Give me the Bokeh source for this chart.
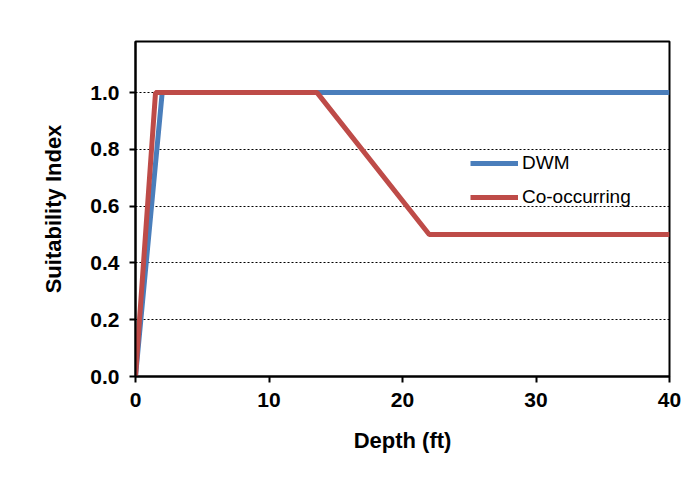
from bokeh.plotting import figure
from bokeh.models import FixedTicker, PrintfTickFormatter, Range1d, Legend, LegendItem
from bokeh.embed import file_html
from bokeh.resources import INLINE

# Data
dwm_depth = [0, 2, 40]
dwm_si = [0, 1.0, 1.0]
co_depth = [0, 1.5, 13.6, 22, 40]
co_si = [0, 1.0, 1.0, 0.5, 0.5]
x_ticks = [0, 10, 20, 30, 40]
y_ticks = [0.0, 0.2, 0.4, 0.6, 0.8, 1.0]

BLUE = "#4A7EBB"
RED = "#BE4B48"
FONT = "Liberation Sans"

p = figure(width=684, height=475, output_backend="svg", toolbar_location=None,
           x_range=Range1d(0, 40), y_range=Range1d(0, 1.18),
           min_border_left=135, min_border_right=15, min_border_top=41, min_border_bottom=99)

p.outline_line_color = "black"
p.outline_line_width = 2
p.background_fill_color = "white"
p.border_fill_color = "white"

r1 = p.line(dwm_depth, dwm_si, line_color=BLUE, line_width=5)
r2 = p.line(co_depth, co_si, line_color=RED, line_width=5)

# grid
p.xgrid.visible = False
p.ygrid.ticker = FixedTicker(ticks=[0.2, 0.4, 0.6, 0.8, 1.0])
p.ygrid.grid_line_color = "black"
p.ygrid.grid_line_dash = "2 2"
p.ygrid.grid_line_width = 1

for ax in (p.xaxis[0], p.yaxis[0]):
    ax.axis_line_color = "black"
    ax.axis_line_width = 2
    ax.major_tick_line_color = "black"
    ax.major_tick_line_width = 2
    ax.major_tick_in = 0
    ax.major_tick_out = 6
    ax.minor_tick_line_color = None
    ax.major_label_text_font = FONT
    ax.major_label_text_font_style = "bold"
    ax.major_label_text_font_size = "21px"
    ax.major_label_text_color = "black"
    ax.axis_label_text_font = FONT
    ax.axis_label_text_font_style = "bold"
    ax.axis_label_text_font_size = "22px"
    ax.axis_label_text_color = "black"

p.xaxis.ticker = FixedTicker(ticks=x_ticks)
p.yaxis.ticker = FixedTicker(ticks=y_ticks)
p.yaxis.formatter = PrintfTickFormatter(format="%.1f")
p.xaxis.axis_label = "Depth (ft)"
p.yaxis.axis_label = "Suitability Index"
p.yaxis.major_label_standoff = 10
p.xaxis.major_label_standoff = 10
p.yaxis.axis_label_standoff = 21
p.xaxis.axis_label_standoff = 18

legend = Legend(items=[LegendItem(label="DWM", renderers=[r1]),
                       LegendItem(label="Co-occurring", renderers=[r2])],
                location=(335, 168), orientation="vertical")
legend.border_line_color = None
legend.background_fill_alpha = 0
legend.padding = 0
legend.margin = 0
legend.spacing = 12
legend.glyph_width = 48
legend.glyph_height = 20
legend.label_height = 20
legend.label_standoff = 4
legend.label_text_font = FONT
legend.label_text_font_size = "19px"
legend.label_text_color = "black"
p.add_layout(legend, "center")

open("out.html", "w").write(file_html(p, INLINE))
